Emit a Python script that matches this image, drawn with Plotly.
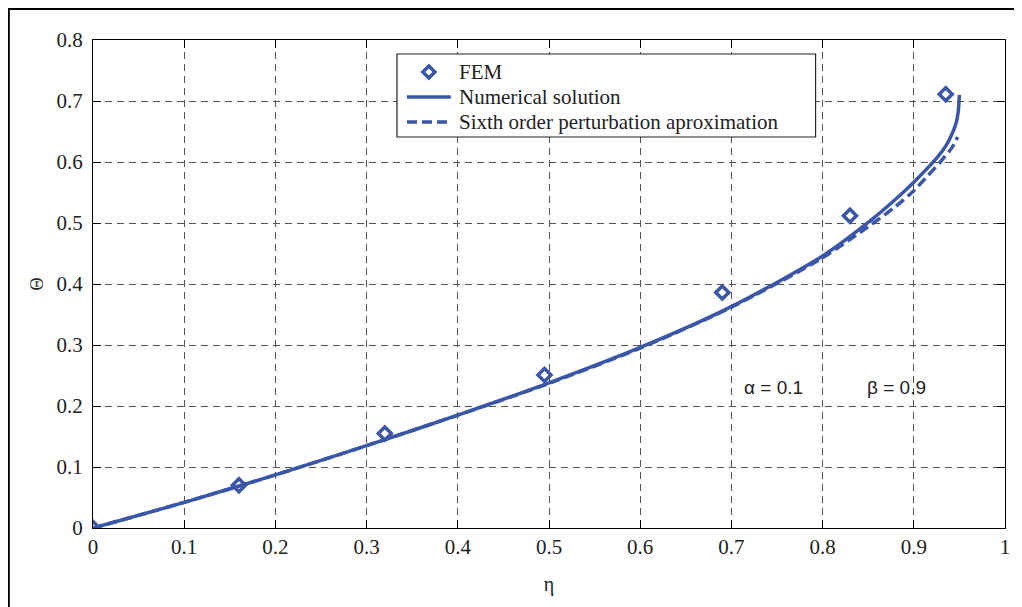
import plotly.graph_objects as go

# FEM data points
fem_eta = [0.0, 0.16, 0.32, 0.495, 0.69, 0.83, 0.935]
fem_theta = [0.0, 0.070, 0.155, 0.251, 0.386, 0.512, 0.711]

# Numerical solution
num_eta = [0.0, 0.1, 0.2, 0.3, 0.4, 0.5, 0.6, 0.7, 0.8, 0.85, 0.88, 0.90, 0.915, 0.926, 0.935, 0.941, 0.946, 0.9485, 0.950]
num_theta = [0.0, 0.042, 0.087, 0.135, 0.185, 0.238, 0.296, 0.363, 0.446, 0.501, 0.539, 0.567, 0.590, 0.608, 0.626, 0.643, 0.662, 0.680, 0.710]

# Sixth order perturbation approximation
pert_eta = [0.0, 0.1, 0.2, 0.3, 0.4, 0.5, 0.6, 0.7, 0.8, 0.85, 0.88, 0.90, 0.915, 0.929, 0.942, 0.948]
pert_theta = [0.0, 0.042, 0.087, 0.135, 0.185, 0.237, 0.295, 0.362, 0.443, 0.494, 0.527, 0.553, 0.577, 0.600, 0.624, 0.641]

x_ticks = [0, 0.1, 0.2, 0.3, 0.4, 0.5, 0.6, 0.7, 0.8, 0.9, 1.0]
x_labels = ["0", "0.1", "0.2", "0.3", "0.4", "0.5", "0.6", "0.7", "0.8", "0.9", "1"]
y_ticks = [0, 0.1, 0.2, 0.3, 0.4, 0.5, 0.6, 0.7, 0.8]
y_labels = ["0", "0.1", "0.2", "0.3", "0.4", "0.5", "0.6", "0.7", "0.8"]

legend_names = ["FEM", "Numerical solution", "Sixth order perturbation aproximation"]

blue = "#3a56a8"
serif = "Liberation Serif"
txt = "#222222"

fig = go.Figure()
fig.add_trace(go.Scatter(
    x=fem_eta, y=fem_theta, mode="markers", name=legend_names[0],
    marker=dict(symbol="diamond-open", size=10, color=blue, line=dict(width=3.5, color=blue)),
))
fig.add_trace(go.Scatter(
    x=num_eta, y=num_theta, mode="lines", name=legend_names[1],
    line=dict(color=blue, width=3.5, shape="spline", smoothing=0.8),
))
fig.add_trace(go.Scatter(
    x=pert_eta, y=pert_theta, mode="lines", name=legend_names[2],
    line=dict(color=blue, width=3.5, dash="10px,5px", shape="spline", smoothing=0.8),
))

axis_common = dict(
    showgrid=True, gridcolor="#555555", gridwidth=1, griddash="7px,5px",
    showline=True, linecolor="black", linewidth=1.2, mirror="ticks",
    ticks="inside", ticklen=8, tickcolor="black", zeroline=False,
    tickfont=dict(family=serif, size=21, color=txt),
)

# page body has an 8px offset; plot area spans px 93..1008 x 40..528 in the photo
fig.update_layout(
    width=1014, height=599,
    margin=dict(l=85, r=14, t=32, b=79),
    paper_bgcolor="white", plot_bgcolor="white",
    font=dict(family=serif, color=txt),
    xaxis=dict(range=[0, 1], tickvals=x_ticks, ticktext=x_labels,
               title=dict(text="η", font=dict(family=serif, size=20, color=txt), standoff=18),
               **axis_common),
    yaxis=dict(range=[0, 0.8], tickvals=y_ticks, ticktext=y_labels, ticklabelstandoff=5,
               title=dict(text="Θ", font=dict(family=serif, size=18, color=txt), standoff=8),
               **axis_common),
    showlegend=False,
)

# custom legend (box, samples, labels)
lx0, lx1, ly0, ly1 = 0.3333, 0.7923, 0.8012, 0.9713
row_y = [0.9344, 0.8832, 0.8320]
fig.add_shape(type="rect", xref="paper", yref="paper", x0=lx0, x1=lx1, y0=ly0, y1=ly1,
              line=dict(color=txt, width=1.2), fillcolor="white", layer="above")
fig.add_shape(type="path", xref="paper", yref="paper", xsizemode="pixel", ysizemode="pixel",
              xanchor=0.3683, yanchor=row_y[0], path="M 0,-6 L 6,0 L 0,6 L -6,0 Z",
              line=dict(color=blue, width=3.5), layer="above")
fig.add_shape(type="line", xref="paper", yref="paper", x0=0.3443, x1=0.3923,
              y0=row_y[1], y1=row_y[1], line=dict(color=blue, width=3.5), layer="above")
fig.add_shape(type="line", xref="paper", yref="paper", x0=0.3443, x1=0.3923,
              y0=row_y[2], y1=row_y[2], line=dict(color=blue, width=3.5, dash="10px,5px"), layer="above")
for name, ry in zip(legend_names, row_y):
    fig.add_annotation(xref="paper", yref="paper", x=0.3989, y=ry, xanchor="left", yanchor="middle",
                       text=name, showarrow=False, font=dict(family=serif, size=21, color=txt))

fig.add_annotation(x=0.746, y=0.231, text="α = 0.1", showarrow=False,
                   font=dict(family="Liberation Sans", size=19, color=txt))
fig.add_annotation(x=0.881, y=0.231, text="β = 0.9", showarrow=False,
                   font=dict(family="Liberation Sans", size=19, color=txt))

# outer frame (left and top edges visible)
fig.add_shape(type="rect", xref="paper", yref="paper",
              x0=-0.0923, y0=-0.25, x1=1.05, y1=1.0635,
              line=dict(color="black", width=2), layer="above")

fig.write_html("out.html")
